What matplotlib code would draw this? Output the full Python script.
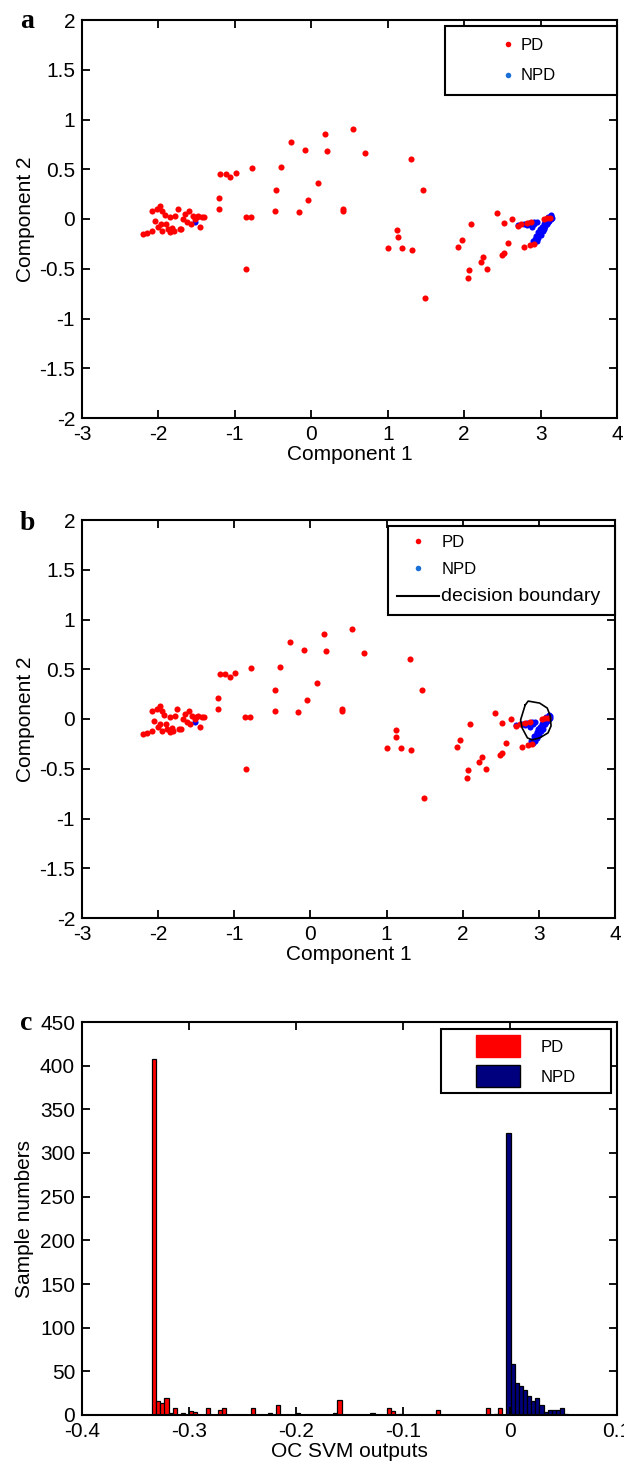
import numpy as np
import matplotlib
matplotlib.use("Agg")
import matplotlib.pyplot as plt
from matplotlib.lines import Line2D
from matplotlib.patches import Rectangle
from matplotlib.legend_handler import HandlerPatch

plt.rcParams['axes.unicode_minus'] = False
plt.rcParams['font.family'] = ['Liberation Sans', 'DejaVu Sans']

# ---- PCA projection, PD samples (Component 1, Component 2) ----
pd_x = [-2.20, -2.15, -2.08, -2.05, -2.08, -2.02, -1.98, -1.95, -1.92, -1.90,
        -1.88, -1.85, -2.00, -1.97, -1.82, -1.78, -1.75, -1.72, -1.68, -1.65,
        -1.60, -1.58, -1.55, -1.52, -1.50, -1.48, -1.45, -1.43, -1.40, -1.62,
        -1.85, -1.80, -1.70, -1.95,
        -1.21, -1.21, -1.19, -1.12, -1.06, -0.99, -0.78, -0.86, -0.79, -0.85,
        -0.46, -0.47, -0.40, -0.27, -0.08, -0.04, -0.16, 0.09, 0.20, 0.41,
        0.41, 0.70, 0.18, 0.54, 1.31, 1.46, 1.12, 1.13, 1.00, 1.19, 1.32, 1.49,
        2.09, 1.97, 1.92, 2.07, 2.05, 2.25, 2.22, 2.30, 2.43, 2.52, 2.52, 2.49,
        2.57, 2.63, 2.70, 2.78, 2.86, 2.91, 2.82, 2.88, 3.04, 3.12, 2.75, 3.08]
pd_y = [-0.15, -0.14, -0.12, -0.02, 0.08, 0.10, 0.13, 0.08, 0.04, -0.05,
        -0.10, -0.13, -0.08, -0.05, -0.09, 0.03, 0.10, -0.10, 0.00, 0.05,
        0.08, -0.05, 0.03, 0.00, 0.02, 0.03, -0.08, 0.02, 0.02, -0.03,
        0.02, -0.12, -0.10, -0.12,
        0.21, 0.10, 0.45, 0.45, 0.42, 0.46, 0.51, 0.02, 0.02, -0.50,
        0.29, 0.08, 0.52, 0.77, 0.69, 0.19, 0.07, 0.36, 0.68, 0.10,
        0.08, 0.66, 0.85, 0.90, 0.60, 0.29, -0.11, -0.18, -0.29, -0.29, -0.31, -0.79,
        -0.05, -0.21, -0.28, -0.51, -0.59, -0.38, -0.43, -0.50, 0.06, -0.04, -0.34, -0.36,
        -0.24, 0.00, -0.07, -0.28, -0.26, -0.25, -0.04, -0.03, 0.00, 0.01, -0.05, 0.01]

# ---- NPD samples ----
npd_x = [-1.52, 2.70, 2.78, 2.85, 2.88, 2.92, 2.95, 2.90, 2.93, 2.96, 2.98,
         3.00, 3.02, 3.04, 3.06, 3.08, 3.10, 3.12, 3.14, 3.15, 3.13, 3.05,
         3.00, 2.95, 2.92, 3.03, 3.08, 3.11, 2.97, 3.06, 3.10,
         2.94, 2.97, 2.99, 3.01, 3.04, 3.07, 3.10, 3.13, 2.89, 2.91, 2.82]
npd_y = [-0.03, -0.06, -0.05, -0.04, -0.06, -0.05, -0.03, -0.22, -0.20, -0.17, -0.14,
         -0.11, -0.08, -0.05, -0.03, -0.01, 0.01, 0.02, 0.03, 0.01, 0.00, -0.10,
         -0.16, -0.22, -0.24, -0.12, -0.05, -0.02, -0.19, -0.07, 0.02,
         -0.17, -0.13, -0.10, -0.12, -0.09, -0.04, -0.03, 0.04, -0.08, -0.03, -0.06]

# ---- one-class SVM decision boundary ----
bound_x = [2.82, 2.86, 3.01, 3.11, 3.15, 3.16, 3.12, 3.01, 2.91, 2.85, 2.78, 2.76, 2.80, 2.82]
bound_y = [0.14, 0.18, 0.16, 0.11, 0.03, -0.07, -0.14, -0.19, -0.21, -0.19, -0.09, -0.01, 0.09, 0.14]

# ---- histogram of OC SVM outputs ----
pd_bins = [-0.3325, -0.3287, -0.3248, -0.3210, -0.3171, -0.3133, -0.3056, -0.2979,
           -0.2940, -0.2825, -0.2709, -0.2671, -0.2401, -0.2247, -0.2170, -0.1978,
           -0.1631, -0.1593, -0.1285, -0.1131, -0.1092, -0.1015, -0.0669, -0.0207,
           -0.0130, -0.0091]
pd_counts = [408, 16, 14, 20, 2, 8, 2, 5, 4, 8, 6, 8, 8, 2, 12, 2, 2, 17, 2, 8, 5, 1,
             6, 8, 1, 8]
npd_bins = [-0.0014, 0.0025, 0.0063, 0.0102, 0.0140, 0.0179, 0.0217, 0.0256, 0.0294,
            0.0333, 0.0371, 0.0410, 0.0448, 0.0487, 0.0525]
npd_counts = [323, 58, 37, 33, 29, 22, 16, 20, 12, 4, 6, 6, 6, 8, 1]
bin_w = 0.00385

W, H = 624, 1465
fig = plt.figure(figsize=(W / 100, H / 100), dpi=100)


def frac(left, top, right, bottom):
    return [left / W, 1 - bottom / H, (right - left) / W, (bottom - top) / H]


def style_axes(ax):
    for s in ax.spines.values():
        s.set_linewidth(1.5)
    ax.tick_params(direction='in', top=True, right=True, length=6, width=1.3,
                   labelsize=15, pad=5)


def scatter_panel(ax):
    ax.plot(npd_x, npd_y, 'o', color='#0000ff', ms=4.4, mew=0)
    ax.plot(pd_x, pd_y, 'o', color='#ff0000', ms=4.4, mew=0)
    ax.set_xlim(-3, 4)
    ax.set_ylim(-2, 2)
    ax.set_xticks(range(-3, 5))
    ax.set_xticklabels([str(v) for v in range(-3, 5)])
    yt = [-2, -1.5, -1, -0.5, 0, 0.5, 1, 1.5, 2]
    ax.set_yticks(yt)
    ax.set_yticklabels(['%g' % v for v in yt])
    ax.set_xlabel('Component 1', fontsize=15, labelpad=1)
    ax.set_ylabel('Component 2', fontsize=15, labelpad=3)
    style_axes(ax)


pd_handle = Line2D([], [], marker='o', color='#ff0000', ls='none', ms=4, mew=0)
npd_handle = Line2D([], [], marker='o', color='#1a6fd6', ls='none', ms=4, mew=0)
legend_style = dict(loc='upper left', mode='expand', fontsize=12, frameon=True,
                    fancybox=False, edgecolor='black', framealpha=1, borderaxespad=0)

# ---- panel a ----
ax1 = fig.add_axes(frac(82, 20, 617, 418))
scatter_panel(ax1)
leg1 = ax1.legend([pd_handle, npd_handle], ['PD', 'NPD'],
                  bbox_to_anchor=(0.679, 0.0, 0.321, 0.985),
                  borderpad=0.7, labelspacing=0.95,
                  handlelength=6.1, handletextpad=-2.3, **legend_style)
leg1.get_frame().set_linewidth(1.5)
fig.text(20 / W, 1 - 22 / H, 'a', fontsize=20, fontweight='bold',
         family='Liberation Serif', va='center')

# ---- panel b ----
ax2 = fig.add_axes(frac(82, 520, 615, 918))
scatter_panel(ax2)
ax2.plot(bound_x, bound_y, color='black', lw=1.2)
bound_handle = Line2D([], [], color='black', lw=1.5)
leg2 = ax2.legend([pd_handle, npd_handle, bound_handle], ['PD', 'NPD', 'decision boundary'],
                  bbox_to_anchor=(0.574, 0.0, 0.426, 0.985),
                  borderpad=0.55, labelspacing=0.7,
                  handlelength=2.5, handletextpad=0.15, **legend_style)
leg2.get_texts()[2].set_fontsize(14)
leg2.get_frame().set_linewidth(1.5)
fig.text(20 / W, 1 - 524 / H, 'b', fontsize=20, fontweight='bold',
         family='Liberation Serif', va='center')

# ---- panel c ----
ax3 = fig.add_axes(frac(82, 1022, 617, 1415))
ax3.bar(pd_bins, pd_counts, width=bin_w, color='#ff0000', edgecolor='black', lw=0.9)
ax3.bar(npd_bins, npd_counts, width=bin_w, color='#00007f', edgecolor='black', lw=0.9)
ax3.set_xlim(-0.4, 0.1)
ax3.set_ylim(0, 450)
xt = [-0.4, -0.3, -0.2, -0.1, 0, 0.1]
ax3.set_xticks(xt)
ax3.set_xticklabels(['%g' % v for v in xt])
ax3.set_yticks(range(0, 451, 50))
ax3.set_xlabel('OC SVM outputs', fontsize=15, labelpad=1)
ax3.set_ylabel('Sample numbers', fontsize=15, labelpad=4)
style_axes(ax3)


def offset_box(legend, orig_handle, xdescent, ydescent, width, height, fontsize):
    # patch drawn in the right part of the handle area
    return Rectangle((width - 44 * 0.72 - xdescent, -ydescent), 44 * 0.72, height)


pd_patch = Rectangle((0, 0), 1, 1, facecolor='#ff0000', edgecolor='#ff0000')
npd_patch = Rectangle((0, 0), 1, 1, facecolor='#00007f', edgecolor='black')
leg3 = ax3.legend([pd_patch, npd_patch], ['PD', 'NPD'],
                  bbox_to_anchor=(0.671, 0.0, 0.318, 0.982),
                  borderpad=0.35, labelspacing=0.45,
                  handlelength=4.4, handleheight=1.7, handletextpad=1.2,
                  handler_map={Rectangle: HandlerPatch(patch_func=offset_box)},
                  **legend_style)
leg3.get_frame().set_linewidth(1.5)
fig.text(20 / W, 1 - 1024 / H, 'c', fontsize=20, fontweight='bold',
         family='Liberation Serif', va='center')

fig.savefig('out.png', dpi=100)
